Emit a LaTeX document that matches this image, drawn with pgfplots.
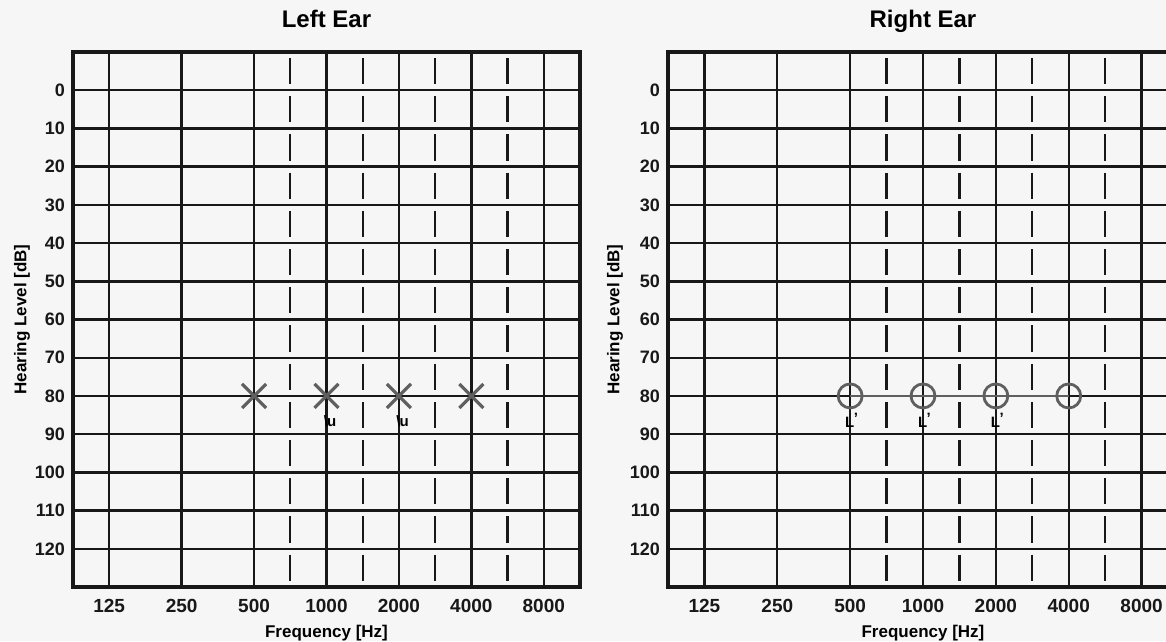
\documentclass[border=0pt]{standalone}
\usepackage{fontspec}
\setmainfont{Liberation Sans}
\usepackage{pgfplots}
\pgfplotsset{compat=1.18}

\definecolor{paper}{RGB}{246,246,246}
\definecolor{ink}{RGB}{24,24,24}
\definecolor{markgray}{RGB}{95,95,95}

\pgfplotsset{
  audiogram/.style={
    scale only axis, height=535pt,
    y dir=reverse, ymin=-10, ymax=130,
    xmin=-0.5, xmax=6.5,
    xtick={0,...,6},
    xticklabels={125,250,500,1000,2000,4000,8000},
    ytick={0,10,...,120},
    major tick length=0pt,
    grid=major,
    grid style={line width=2.4pt, ink},
    axis line style={line width=3.4pt, ink},
    /pgf/number format/assume math mode=true,
    tick label style={text=ink},
    xticklabel style={anchor=north, inner sep=0pt, yshift=-12pt,
      font=\bfseries\fontsize{19}{19}\selectfont},
    yticklabel style={anchor=east, inner sep=0pt, xshift=-8pt,
      font=\bfseries\fontsize{18}{18}\selectfont},
    title style={at={(0.5,1)}, anchor=base, yshift=19pt,
      font=\bfseries\fontsize{24}{24}\selectfont},
    xlabel={Frequency [Hz]},
    ylabel={Hearing Level [dB]},
    xlabel style={at={(0.5,0)}, anchor=base, yshift=-50pt,
      font=\bfseries\fontsize{17}{17}\selectfont},
    ylabel style={anchor=center, font=\bfseries\fontsize{17}{17}\selectfont},
  },
  halfoct/.style={ink, line width=2.4pt, dash pattern=on 26.2pt off 12pt,
    dash phase=32.2pt, forget plot},
}

\begin{document}
\begin{tikzpicture}
\fill[paper] (0pt,0pt) rectangle (1166pt,-641pt);

% left ear
\begin{axis}[audiogram, width=507pt,
  at={(73pt,-52pt)}, anchor=north west,
  title={Left Ear},
  ylabel style={at={(axis description cs:-0.1006,0.5)}}]
\addplot[halfoct] coordinates {(2.5,-10) (2.5,130)};
\addplot[halfoct] coordinates {(3.5,-10) (3.5,130)};
\addplot[halfoct] coordinates {(4.5,-10) (4.5,130)};
\addplot[halfoct] coordinates {(5.5,-10) (5.5,130)};
\addplot[ink, line width=2.6pt] coordinates {(2,80) (3,80)};
\addplot[ink, line width=2.6pt] coordinates {(4,80) (5,80)};
\addplot[only marks, mark=x, mark size=17pt, markgray,
  mark options={line width=3.2pt}] coordinates {(2,80) (3,80) (4,80) (5,80)};
\addplot[only marks, mark=text, markgray,
  text mark={\bfseries\fontsize{15}{15}\selectfont\textbackslash\kern-1pt u}]
  coordinates {(3.05,86.5) (4.05,86.5)};
\end{axis}

% right ear
\begin{axis}[audiogram, width=510pt,
  at={(668pt,-52pt)}, anchor=north west,
  title={Right Ear},
  ylabel style={at={(axis description cs:-0.104,0.5)}}]
\addplot[halfoct] coordinates {(2.5,-10) (2.5,130)};
\addplot[halfoct] coordinates {(3.5,-10) (3.5,130)};
\addplot[halfoct] coordinates {(4.5,-10) (4.5,130)};
\addplot[halfoct] coordinates {(5.5,-10) (5.5,130)};
\addplot[markgray, line width=1.8pt, mark=o, mark size=12pt,
  mark options={line width=2.8pt}] coordinates {(2,80) (3,80) (4,80) (5,80)};
\addplot[only marks, mark=text, markgray,
  text mark={\bfseries\fontsize{15}{15}\selectfont L\kern-0.5pt\raisebox{4pt}{'}}]
  coordinates {(2.02,86.5) (3.02,86.5) (4.02,86.5)};
\end{axis}

\pgfresetboundingbox
\path[use as bounding box] (0pt,0pt) rectangle (1166pt,-641pt);
\end{tikzpicture}
\end{document}
